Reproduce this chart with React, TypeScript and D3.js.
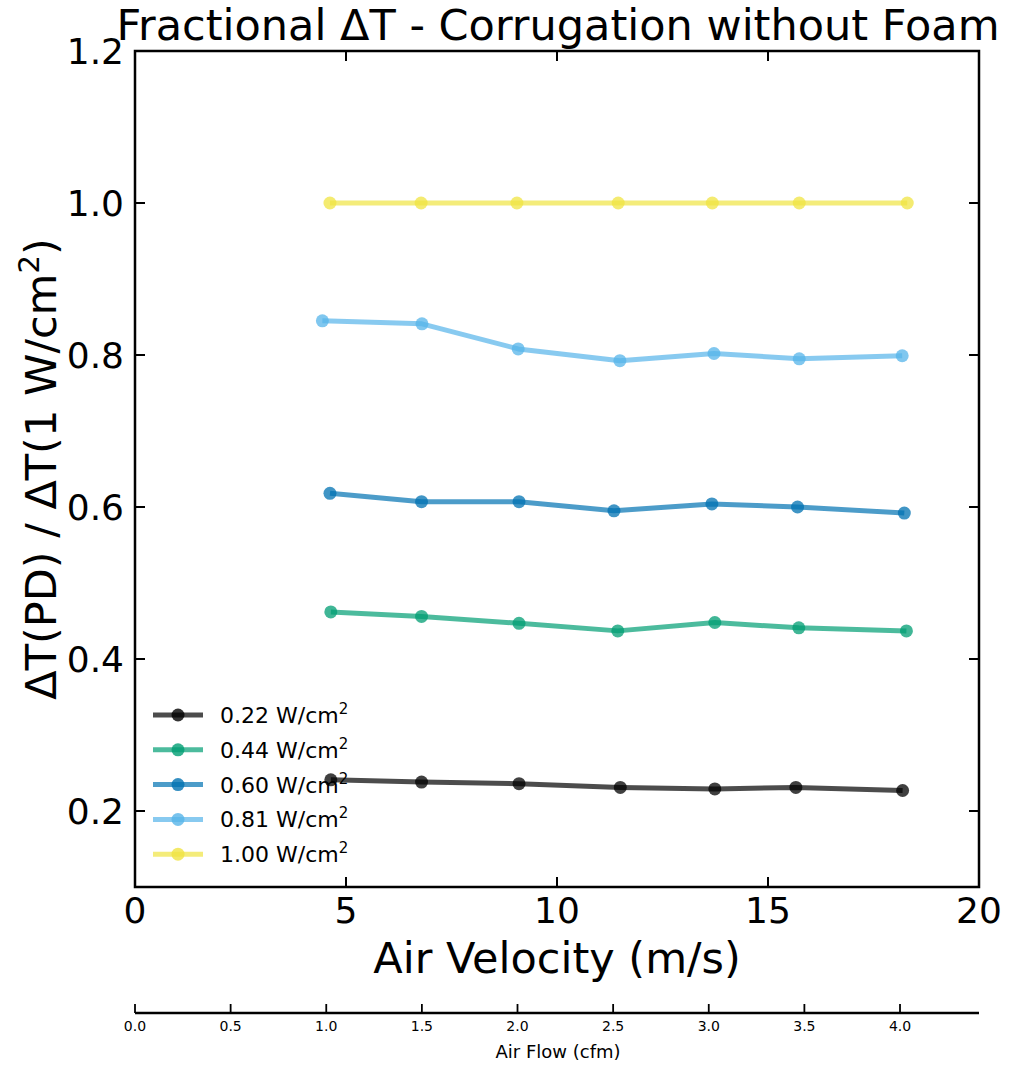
import React, { useRef, useEffect } from "react";
import * as d3 from "d3";

// power densities (W/cm2) shown in the legend
const seriesLabels = ["0.22", "0.44", "0.60", "0.81", "1.00"];
const seriesColors = ["#000000", "#009E73", "#0072B2", "#56B4E9", "#F0E442"];

// air velocity (m/s) per series
const vel022 = [4.64, 6.79, 9.1, 11.5, 13.74, 15.66, 18.19];
const vel044 = [4.64, 6.79, 9.1, 11.44, 13.74, 15.73, 18.28];
const vel060 = [4.62, 6.79, 9.1, 11.35, 13.67, 15.7, 18.23];
const vel081 = [4.44, 6.8, 9.08, 11.49, 13.72, 15.74, 18.18];
const vel100 = [4.62, 6.78, 9.05, 11.45, 13.68, 15.74, 18.3];

// fractional dT per series
const frac022 = [0.241, 0.238, 0.236, 0.231, 0.229, 0.231, 0.227];
const frac044 = [0.462, 0.456, 0.447, 0.437, 0.448, 0.441, 0.437];
const frac060 = [0.618, 0.607, 0.607, 0.595, 0.604, 0.6, 0.592];
const frac081 = [0.845, 0.841, 0.808, 0.7925, 0.802, 0.795, 0.799];
const frac100 = [1.0, 1.0, 1.0, 1.0, 1.0, 1.0, 1.0];

const xTicks = [0, 5, 10, 15, 20];
const yTicks = [0.2, 0.4, 0.6, 0.8, 1.0, 1.2];
const cfmTicks = [0, 0.5, 1.0, 1.5, 2.0, 2.5, 3.0, 3.5, 4.0];

export default function App() {
  const ref = useRef<SVGSVGElement>(null);

  useEffect(() => {
    const W = 1012,
      H = 1066;
    const m = { left: 135, right: 979, top: 51, bottom: 887 };
    const font = "DejaVu Sans, sans-serif";

    const svg = d3.select(ref.current).attr("width", W).attr("height", H);
    svg.selectAll("*").remove();

    const x = d3.scaleLinear().domain([0, 20]).range([m.left, m.right]);
    const y = d3.scaleLinear().domain([0.1, 1.2]).range([m.bottom, m.top]);
    const cfm = d3.scaleLinear().domain([0, 4.413]).range([m.left, m.right]);

    const series = [
      { xs: vel022, ys: frac022 },
      { xs: vel044, ys: frac044 },
      { xs: vel060, ys: frac060 },
      { xs: vel081, ys: frac081 },
      { xs: vel100, ys: frac100 },
    ];

    // title
    svg
      .append("text")
      .attr("x", (m.left + m.right) / 2 + 1)
      .attr("y", 40)
      .attr("text-anchor", "middle")
      .attr("font-family", font)
      .attr("font-size", 43)
      .text("Fractional \u0394T - Corrugation without Foam");

    // legend (drawn under the data)
    const leg = svg.append("g");
    seriesLabels.forEach((lab, i) => {
      const ly = 715 + i * 34.8;
      leg
        .append("line")
        .attr("x1", 153)
        .attr("x2", 203)
        .attr("y1", ly)
        .attr("y2", ly)
        .attr("stroke", seriesColors[i])
        .attr("stroke-opacity", 0.7)
        .attr("stroke-width", 5);
      leg
        .append("circle")
        .attr("cx", 178)
        .attr("cy", ly)
        .attr("r", 6.5)
        .attr("fill", seriesColors[i])
        .attr("fill-opacity", 0.8);
      const t = leg
        .append("text")
        .attr("x", 220)
        .attr("y", ly + 8)
        .attr("font-family", font)
        .attr("font-size", 22);
      t.append("tspan").text(lab + " W/cm");
      t.append("tspan").attr("dy", -9).attr("font-size", 15).text("2");
    });

    // data
    const line = d3
      .line<[number, number]>()
      .x((d) => x(d[0]))
      .y((d) => y(d[1]));
    series.forEach((s, i) => {
      const pts: [number, number][] = s.xs.map((v, k) => [v, s.ys[k]]);
      svg
        .append("path")
        .attr("d", line(pts))
        .attr("fill", "none")
        .attr("stroke", seriesColors[i])
        .attr("stroke-opacity", 0.7)
        .attr("stroke-width", 5)
        .attr("stroke-linejoin", "round");
      svg
        .append("g")
        .selectAll("circle")
        .data(pts)
        .enter()
        .append("circle")
        .attr("cx", (d) => x(d[0]))
        .attr("cy", (d) => y(d[1]))
        .attr("r", 6.5)
        .attr("fill", seriesColors[i])
        .attr("fill-opacity", 0.75);
    });

    // frame
    svg
      .append("rect")
      .attr("x", m.left)
      .attr("y", m.top)
      .attr("width", m.right - m.left)
      .attr("height", m.bottom - m.top)
      .attr("fill", "none")
      .attr("stroke", "#000")
      .attr("stroke-width", 2.5);

    // ticks, inward on all sides
    const tl = 10;
    xTicks.forEach((v) => {
      svg.append("line").attr("x1", x(v)).attr("x2", x(v)).attr("y1", m.bottom).attr("y2", m.bottom - tl).attr("stroke", "#000").attr("stroke-width", 2);
      svg.append("line").attr("x1", x(v)).attr("x2", x(v)).attr("y1", m.top).attr("y2", m.top + tl).attr("stroke", "#000").attr("stroke-width", 2);
      svg
        .append("text")
        .attr("x", x(v))
        .attr("y", m.bottom + 36)
        .attr("text-anchor", "middle")
        .attr("font-family", font)
        .attr("font-size", 36)
        .text(d3.format("d")(v));
    });
    yTicks.forEach((v) => {
      svg.append("line").attr("x1", m.left).attr("x2", m.left + tl).attr("y1", y(v)).attr("y2", y(v)).attr("stroke", "#000").attr("stroke-width", 2);
      svg.append("line").attr("x1", m.right).attr("x2", m.right - tl).attr("y1", y(v)).attr("y2", y(v)).attr("stroke", "#000").attr("stroke-width", 2);
      svg
        .append("text")
        .attr("x", m.left - 11)
        .attr("y", y(v) + 13)
        .attr("text-anchor", "end")
        .attr("font-family", font)
        .attr("font-size", 36)
        .text(d3.format(".1f")(v));
    });

    // axis labels
    svg
      .append("text")
      .attr("x", (m.left + m.right) / 2)
      .attr("y", 973)
      .attr("text-anchor", "middle")
      .attr("font-family", font)
      .attr("font-size", 43)
      .text("Air Velocity (m/s)");

    const yl = svg
      .append("text")
      .attr("transform", `translate(56,${(m.top + m.bottom) / 2}) rotate(-90)`)
      .attr("text-anchor", "middle")
      .attr("font-family", font)
      .attr("font-size", 43);
    yl.append("tspan").text("\u0394T(PD) / \u0394T(1 W/cm");
    yl.append("tspan").attr("dy", -17).attr("font-size", 29).text("2");
    yl.append("tspan").attr("dy", 17).text(")");

    // secondary air-flow axis
    const ay = 1013;
    svg.append("line").attr("x1", m.left).attr("x2", m.right).attr("y1", ay).attr("y2", ay).attr("stroke", "#000").attr("stroke-width", 2.5);
    cfmTicks.forEach((v) => {
      svg.append("line").attr("x1", cfm(v)).attr("x2", cfm(v)).attr("y1", ay).attr("y2", ay - 9).attr("stroke", "#000").attr("stroke-width", 1.8);
      svg
        .append("text")
        .attr("x", cfm(v))
        .attr("y", ay + 18)
        .attr("text-anchor", "middle")
        .attr("font-family", font)
        .attr("font-size", 14)
        .text(d3.format(".1f")(v));
    });
    svg
      .append("text")
      .attr("x", (m.left + m.right) / 2 + 1)
      .attr("y", 1058)
      .attr("text-anchor", "middle")
      .attr("font-family", font)
      .attr("font-size", 18)
      .text("Air Flow (cfm)");
  }, []);

  return (
    <div style={{ position: "absolute", left: 0, top: 0, background: "#fff" }}>
      <svg ref={ref}></svg>
    </div>
  );
}
